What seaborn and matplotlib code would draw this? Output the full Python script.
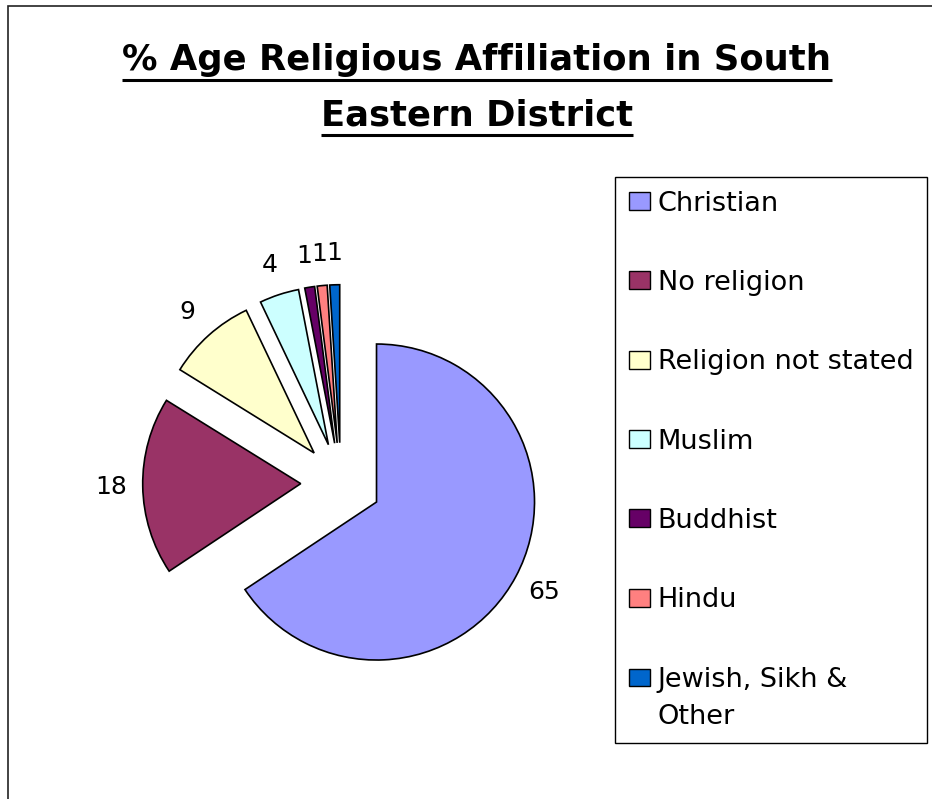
import matplotlib
matplotlib.use("Agg")
import matplotlib.pyplot as plt
from matplotlib.patches import Rectangle, Patch
from matplotlib.lines import Line2D
import seaborn as sns

# ---- data ----
categories = ["Christian", "No religion", "Religion not stated", "Muslim",
              "Buddhist", "Hindu", "Jewish, Sikh &\nOther"]
values = [65, 18, 9, 4, 1, 1, 1]
colors = ["#9999FF", "#993366", "#FFFFCC", "#CCFFFF", "#660066", "#FF8080", "#0066CC"]
title_lines = ["% Age Religious Affiliation in South", "Eastern District"]

sns.set_theme(style="white")
plt.rcParams["font.family"] = ["DejaVu Sans"]
plt.rcParams["text.color"] = "black"

W, H = 932, 799
fig = plt.figure(figsize=(W / 100, H / 100), dpi=100)
fig.patch.set_facecolor("white")

# pie axes: full figure, 1 data unit = R pixels
R = 158.0
cx, cy = 341.0, 483.0  # pie centre in pixels (from top-left)
ax = fig.add_axes([0, 0, 1, 1])

palette = sns.color_palette(colors)
wedges, texts = ax.pie(
    values,
    labels=[str(v) for v in values],
    colors=palette,
    startangle=90,
    counterclock=False,
    explode=[0.255] * len(values),
    radius=1.0,
    labeldistance=1.2,
    wedgeprops=dict(edgecolor="black", linewidth=1.2),
    textprops=dict(fontsize=18, color="black"),
)
for t in texts:
    t.set_ha("center")
    t.set_va("center")
ax.set_xlim(-cx / R, (W - cx) / R)
ax.set_ylim(-(H - cy) / R, cy / R)
ax.set_aspect("equal")
ax.axis("off")

# legend
FS = 19.5
handles = [Patch(facecolor=c, edgecolor="black", linewidth=1.0) for c in palette]
leg = fig.legend(
    handles, categories,
    loc="upper left",
    bbox_to_anchor=(615 / W, 1 - 177 / H),
    borderaxespad=0,
    frameon=True,
    fancybox=False,
    framealpha=1,
    edgecolor="black",
    fontsize=FS,
    labelcolor="black",
    handlelength=0.78,
    handleheight=0.64,
    handletextpad=0.3,
    labelspacing=1.97,
    borderpad=0.5,
)
leg.get_frame().set_linewidth(1.0)
leg.get_texts()[-1].set_linespacing(1.55)
# align the last (two-line) entry's swatch with its first line
last = leg.legend_handles[-1]
last.set_y(last.get_y() + 0.78 * FS)

# title (two centred lines, bold, underlined)
title_x = 477 / W
baselines = [70, 125]
ttexts = []
for line, b in zip(title_lines, baselines):
    t = fig.text(title_x, 1 - b / H, line, ha="center", va="baseline",
                 fontsize=25.5, fontweight="bold", color="black")
    ttexts.append(t)

fig.canvas.draw()
renderer = fig.canvas.get_renderer()
for t, b in zip(ttexts, baselines):
    bb = t.get_window_extent(renderer)
    yline = 1 - (b + 10) / H
    fig.add_artist(Line2D([bb.x0 / W, bb.x1 / W], [yline, yline],
                          transform=fig.transFigure, color="black", linewidth=2.2,
                          solid_capstyle="butt"))

# outer chart border (left and top visible)
fig.add_artist(Rectangle((8 / W, -0.05), 1.2, 1 - 6 / H + 0.05,
                         transform=fig.transFigure, fill=False,
                         edgecolor="#222222", linewidth=1.2))

fig.savefig("out.png", dpi=100, facecolor="white")
